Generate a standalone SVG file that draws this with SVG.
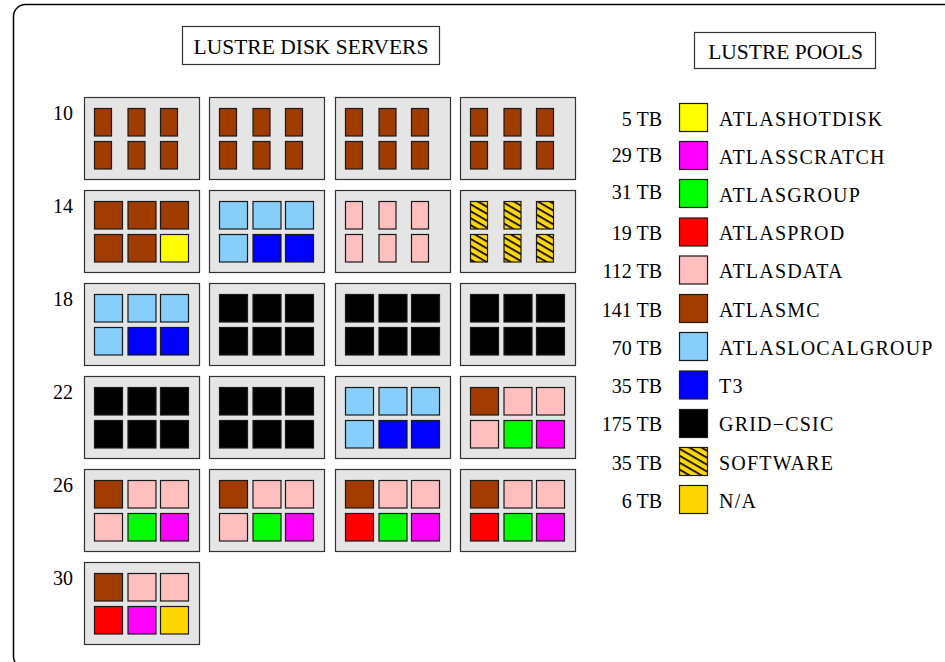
<svg xmlns="http://www.w3.org/2000/svg" width="945" height="662" viewBox="0 0 945 662">
<style>
text{font-family:"Liberation Serif","Times New Roman",serif;fill:#000}
.t{font-size:21.5px;text-anchor:middle}
.n{font-size:20px}
.lg{font-size:20px;letter-spacing:1.2px}
.num{font-size:20px;text-anchor:end}
.box{fill:#e5e5e5;stroke:#333;stroke-width:1.2}
.hb{fill:#fff;stroke:#333;stroke-width:1.2}
.c{stroke:#1a1a1a;stroke-width:1.2}
.mc{fill:#a03c00}.da{fill:#ffbfbf}.lo{fill:#87cefa}.t3{fill:#0000ff}.gr{fill:#000}
.ho{fill:#ffff00}.sc{fill:#ff00ff}.gp{fill:#00ff00}.pr{fill:#ff0000}.na{fill:#ffd700}.sw{fill:url(#hatch)}
</style>
<defs>
<pattern id="hatch" width="6" height="6" patternUnits="userSpaceOnUse" patternTransform="rotate(30)">
<rect width="6" height="6" fill="#ffd700"/><rect width="6" height="1.7" fill="#000"/>
</pattern>
<g id="narrowMC">
<rect class="c mc" x="10" y="11" width="17" height="27.5"/><rect class="c mc" x="43.5" y="11" width="17" height="27.5"/><rect class="c mc" x="76" y="11" width="17" height="27.5"/>
<rect class="c mc" x="10" y="44" width="17" height="27.5"/><rect class="c mc" x="43.5" y="44" width="17" height="27.5"/><rect class="c mc" x="76" y="44" width="17" height="27.5"/>
</g>
<g id="allGR">
<rect class="c gr" x="10" y="11" width="28" height="27.5"/><rect class="c gr" x="43.5" y="11" width="28" height="27.5"/><rect class="c gr" x="76" y="11" width="28" height="27.5"/>
<rect class="c gr" x="10" y="44" width="28" height="27.5"/><rect class="c gr" x="43.5" y="44" width="28" height="27.5"/><rect class="c gr" x="76" y="44" width="28" height="27.5"/>
</g>
<g id="loT3">
<rect class="c lo" x="10" y="11" width="28" height="27.5"/><rect class="c lo" x="43.5" y="11" width="28" height="27.5"/><rect class="c lo" x="76" y="11" width="28" height="27.5"/>
<rect class="c lo" x="10" y="44" width="28" height="27.5"/><rect class="c t3" x="43.5" y="44" width="28" height="27.5"/><rect class="c t3" x="76" y="44" width="28" height="27.5"/>
</g>
<g id="mixA">
<rect class="c mc" x="10" y="11" width="28" height="27.5"/><rect class="c da" x="43.5" y="11" width="28" height="27.5"/><rect class="c da" x="76" y="11" width="28" height="27.5"/>
<rect class="c da" x="10" y="44" width="28" height="27.5"/><rect class="c gp" x="43.5" y="44" width="28" height="27.5"/><rect class="c sc" x="76" y="44" width="28" height="27.5"/>
</g>
<g id="mixB">
<rect class="c mc" x="10" y="11" width="28" height="27.5"/><rect class="c da" x="43.5" y="11" width="28" height="27.5"/><rect class="c da" x="76" y="11" width="28" height="27.5"/>
<rect class="c pr" x="10" y="44" width="28" height="27.5"/><rect class="c gp" x="43.5" y="44" width="28" height="27.5"/><rect class="c sc" x="76" y="44" width="28" height="27.5"/>
</g>
</defs>

<rect x="13.5" y="4.5" width="1000" height="664" rx="12" fill="#fff" stroke="#000" stroke-width="1.5"/>

<g id="title-servers"><rect class="hb" x="182.5" y="26.5" width="257" height="38"/><text class="t" x="311" y="54.3">LUSTRE DISK SERVERS</text></g>
<g id="title-pools"><rect class="hb" x="694.5" y="32.5" width="181" height="36"/><text class="t" x="785.5" y="58.5">LUSTRE POOLS</text></g>

<g id="row-labels">
<text class="n" x="53" y="119.5">10</text>
<text class="n" x="53" y="212.5">14</text>
<text class="n" x="53" y="305.5">18</text>
<text class="n" x="53" y="398.5">22</text>
<text class="n" x="53" y="491.5">26</text>
<text class="n" x="53" y="584.5">30</text>
</g>

<g id="srv-10-1" transform="translate(84.5,97.5)"><rect class="box" width="115" height="82"/><use href="#narrowMC"/></g>
<g id="srv-10-2" transform="translate(209.5,97.5)"><rect class="box" width="115" height="82"/><use href="#narrowMC"/></g>
<g id="srv-10-3" transform="translate(335.5,97.5)"><rect class="box" width="115" height="82"/><use href="#narrowMC"/></g>
<g id="srv-10-4" transform="translate(460.5,97.5)"><rect class="box" width="115" height="82"/><use href="#narrowMC"/></g>

<g id="srv-14-1" transform="translate(84.5,190.5)"><rect class="box" width="115" height="82"/>
<rect class="c mc" x="10" y="11" width="28" height="27.5"/><rect class="c mc" x="43.5" y="11" width="28" height="27.5"/><rect class="c mc" x="76" y="11" width="28" height="27.5"/>
<rect class="c mc" x="10" y="44" width="28" height="27.5"/><rect class="c mc" x="43.5" y="44" width="28" height="27.5"/><rect class="c ho" x="76" y="44" width="28" height="27.5"/></g>
<g id="srv-14-2" transform="translate(209.5,190.5)"><rect class="box" width="115" height="82"/><use href="#loT3"/></g>
<g id="srv-14-3" transform="translate(335.5,190.5)"><rect class="box" width="115" height="82"/>
<rect class="c da" x="10" y="11" width="17" height="27.5"/><rect class="c da" x="43.5" y="11" width="17" height="27.5"/><rect class="c da" x="76" y="11" width="17" height="27.5"/>
<rect class="c da" x="10" y="44" width="17" height="27.5"/><rect class="c da" x="43.5" y="44" width="17" height="27.5"/><rect class="c da" x="76" y="44" width="17" height="27.5"/></g>
<g id="srv-14-4" transform="translate(460.5,190.5)"><rect class="box" width="115" height="82"/>
<rect class="c sw" x="10" y="11" width="17" height="27.5"/><rect class="c sw" x="43.5" y="11" width="17" height="27.5"/><rect class="c sw" x="76" y="11" width="17" height="27.5"/>
<rect class="c sw" x="10" y="44" width="17" height="27.5"/><rect class="c sw" x="43.5" y="44" width="17" height="27.5"/><rect class="c sw" x="76" y="44" width="17" height="27.5"/></g>

<g id="srv-18-1" transform="translate(84.5,283.5)"><rect class="box" width="115" height="82"/><use href="#loT3"/></g>
<g id="srv-18-2" transform="translate(209.5,283.5)"><rect class="box" width="115" height="82"/><use href="#allGR"/></g>
<g id="srv-18-3" transform="translate(335.5,283.5)"><rect class="box" width="115" height="82"/><use href="#allGR"/></g>
<g id="srv-18-4" transform="translate(460.5,283.5)"><rect class="box" width="115" height="82"/><use href="#allGR"/></g>

<g id="srv-22-1" transform="translate(84.5,376.5)"><rect class="box" width="115" height="82"/><use href="#allGR"/></g>
<g id="srv-22-2" transform="translate(209.5,376.5)"><rect class="box" width="115" height="82"/><use href="#allGR"/></g>
<g id="srv-22-3" transform="translate(335.5,376.5)"><rect class="box" width="115" height="82"/><use href="#loT3"/></g>
<g id="srv-22-4" transform="translate(460.5,376.5)"><rect class="box" width="115" height="82"/><use href="#mixA"/></g>

<g id="srv-26-1" transform="translate(84.5,469.5)"><rect class="box" width="115" height="82"/><use href="#mixA"/></g>
<g id="srv-26-2" transform="translate(209.5,469.5)"><rect class="box" width="115" height="82"/><use href="#mixA"/></g>
<g id="srv-26-3" transform="translate(335.5,469.5)"><rect class="box" width="115" height="82"/><use href="#mixB"/></g>
<g id="srv-26-4" transform="translate(460.5,469.5)"><rect class="box" width="115" height="82"/><use href="#mixB"/></g>

<g id="srv-30-1" transform="translate(84.5,562.5)"><rect class="box" width="115" height="82"/>
<rect class="c mc" x="10" y="11" width="28" height="27.5"/><rect class="c da" x="43.5" y="11" width="28" height="27.5"/><rect class="c da" x="76" y="11" width="28" height="27.5"/>
<rect class="c pr" x="10" y="44" width="28" height="27.5"/><rect class="c sc" x="43.5" y="44" width="28" height="27.5"/><rect class="c na" x="76" y="44" width="28" height="27.5"/></g>

<g id="legend-hotdisk"><text class="num" x="662" y="125.5">5 TB</text><rect class="c ho" x="679.5" y="103.5" width="28" height="28"/><text class="lg" x="719" y="125.5">ATLASHOTDISK</text></g>
<g id="legend-scratch"><text class="num" x="662" y="162">29 TB</text><rect class="c sc" x="679.5" y="141.5" width="28" height="28"/><text class="lg" x="719" y="163.5">ATLASSCRATCH</text></g>
<g id="legend-group"><text class="num" x="662" y="199">31 TB</text><rect class="c gp" x="679.5" y="179.5" width="28" height="28"/><text class="lg" x="719" y="201.5">ATLASGROUP</text></g>
<g id="legend-prod"><text class="num" x="662" y="240">19 TB</text><rect class="c pr" x="679.5" y="218" width="28" height="28"/><text class="lg" x="719" y="240">ATLASPROD</text></g>
<g id="legend-data"><text class="num" x="662" y="278">112 TB</text><rect class="c da" x="679.5" y="256" width="28" height="28"/><text class="lg" x="719" y="278">ATLASDATA</text></g>
<g id="legend-mc"><text class="num" x="662" y="316.5">141 TB</text><rect class="c mc" x="679.5" y="294.5" width="28" height="28"/><text class="lg" x="719" y="316.5">ATLASMC</text></g>
<g id="legend-localgroup"><text class="num" x="662" y="354.5">70 TB</text><rect class="c lo" x="679.5" y="332.5" width="28" height="28"/><text class="lg" x="719" y="354.5">ATLASLOCALGROUP</text></g>
<g id="legend-t3"><text class="num" x="662" y="393">35 TB</text><rect class="c t3" x="679.5" y="371" width="28" height="28"/><text class="lg" x="719" y="393">T3</text></g>
<g id="legend-grid"><text class="num" x="662" y="431">175 TB</text><rect class="c gr" x="679.5" y="409.5" width="28" height="28"/><text class="lg" x="719" y="431">GRID−CSIC</text></g>
<g id="legend-software"><text class="num" x="662" y="469.5">35 TB</text><rect class="c sw" x="679.5" y="447.5" width="28" height="28"/><text class="lg" x="719" y="469.5">SOFTWARE</text></g>
<g id="legend-na"><text class="num" x="662" y="507.5">6 TB</text><rect class="c na" x="679.5" y="485.5" width="28" height="28"/><text class="lg" x="719" y="507.5">N/A</text></g>
</svg>
